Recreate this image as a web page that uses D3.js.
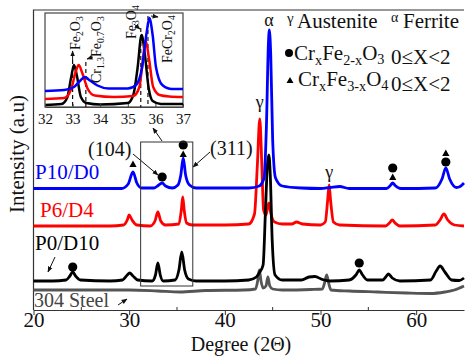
<!DOCTYPE html>
<html><head><meta charset="utf-8">
<script src="https://cdn.jsdelivr.net/npm/d3@7"></script>
<style>
body{margin:0;background:#fff}
svg{display:block}
svg text{font-family:'Liberation Serif','Tinos','Times New Roman','DejaVu Serif',serif !important}
</style>
</head><body>
<svg id="chart" width="465" height="356" font-family="Liberation Serif, Tinos, Times New Roman, DejaVu Serif, serif"></svg>
<script>
// ---------- DATA (degree 2θ, intensity a.u.) ----------
const xTicks = [20, 30, 40, 50, 60];
const xMinorTicks = [25, 35, 45, 55];
const insetTicks = [32, 33, 34, 35, 36, 37];

const seriesNames = ["304 Steel", "P6/D4", "P0/D10", "P10/D0"];

const steel304 = [[20,20],[25,20],[30,20],[33,19],[35.3,18],[38,19.5],[42,20],[43.2,21],[43.45,30],[43.6,40],[43.8,28],[44.0,22],[44.3,24],[44.5,33],[44.7,24],[45.0,21],[46,20],[49,20.5],[50.2,21],[50.45,28],[50.65,35],[50.85,27],[51.1,20],[53,19],[56,18],[59,17],[61.5,16.5],[63,18],[64,20],[65,24]];

const p6d4 = [[20,84],[28,84],[29.4,85],[29.8,90],[30.0,95],[30.3,90],[30.8,85],[32.2,84],[32.7,89],[33.0,98],[33.3,89],[33.8,85],[35.2,86],[35.45,100],[35.6,113],[35.75,100],[36.0,87],[36.6,85],[40,85],[42.5,86],[43.1,96],[43.4,145],[43.65,191],[43.85,150],[44.05,100],[44.3,95],[44.5,104],[44.62,107],[44.8,97],[45.2,88],[46,86],[47,86],[47.5,88],[48.1,86],[50,85],[50.5,88],[50.75,110],[50.9,125],[51.05,110],[51.35,88],[52,85],[56.8,84],[57.2,87],[57.5,90],[57.8,87],[58.3,84],[62,85],[62.5,90],[62.9,96],[63.3,90],[64.0,85],[65,84]];

const p0d10 = [[20,29],[22,29],[23.4,30],[23.8,34],[24.1,38],[24.4,34],[24.9,30],[28,29],[29.3,30],[29.8,35],[30.05,37],[30.4,34],[30.9,30],[32.4,29],[32.75,35],[33.0,47],[33.25,35],[33.55,29],[34.8,30],[35.2,40],[35.5,58],[35.8,40],[36.2,31],[37,29],[40,29],[42.5,30],[43.3,33],[43.65,38],[44.0,45],[44.25,100],[44.45,145],[44.6,155],[44.75,135],[44.95,70],[45.25,35],[46,30],[48,30],[48.8,33],[49.4,33.5],[50.2,30.5],[51,29],[53,30],[53.7,35],[54.05,40],[54.4,35],[54.9,30],[56.5,30],[56.9,34],[57.1,36],[57.5,32],[58.3,29],[61.5,30],[62.1,39],[62.5,44],[63.0,38],[63.7,30],[64.5,29.5],[65,32]];

const p10d0 = [[20,121.5],[25,121.5],[29.2,121.5],[29.9,126],[30.4,138],[30.8,127],[31.3,122],[32.6,122],[33.1,125],[33.45,127],[33.8,124],[34.5,122],[35.1,125],[35.4,135],[35.65,152],[35.9,135],[36.3,125],[37,122],[40,122],[42.5,122],[43.6,124],[44.1,132],[44.35,185],[44.55,265],[44.65,280],[44.8,255],[45.0,170],[45.3,132],[46,124],[48,122],[50,121.5],[51,122.5],[52,123.5],[53,121.5],[56.9,121.5],[57.3,124.5],[57.55,127],[57.8,124.5],[58.4,121.5],[62,122],[62.7,131],[63.1,142],[63.5,131],[64.2,122.5],[64.6,123.5],[65,127]];

// inset (32–37°)
const insetBlack = [[32,2],[32.6,3],[32.8,9],[32.95,30],[33.05,42],[33.15,32],[33.3,10],[33.5,4],[34,2.5],[35,4],[35.2,12],[35.35,38],[35.5,72],[35.62,52],[35.75,20],[35.9,6],[36.2,3],[37,3]];
const insetRed = [[32,8],[32.7,9],[32.95,18],[33.12,36],[33.22,42],[33.35,34],[33.55,18],[33.8,11.5],[34.5,10],[35.2,11],[35.42,20],[35.53,43],[35.65,66],[35.77,48],[35.92,20],[36.15,12],[36.5,10.5],[37,10]];
const insetBlue = [[32,16],[32.7,17],[33.05,20],[33.3,27],[33.45,30],[33.6,27],[33.9,21.5],[34.3,18.5],[35,18.5],[35.3,22],[35.52,40],[35.68,74],[35.78,89],[35.9,72],[36.02,40],[36.25,22],[36.6,18],[37,18]];

// phase markers: [deg, intensity, type]
const markersBlue = [[30.4,146,"tri"],[33.45,133,"dot"],[35.65,165,"dot"],[35.65,156,"tri"],[57.55,142,"dot"],[57.55,133,"tri"],[63.1,157,"tri"],[63.1,148,"dot"]];
const markersBlack = [[24.1,43,"dot"],[54.05,47,"dot"]];

// inset reference lines (deg)
const refLines = [33.0, 33.48, 35.47, 35.73];

// ---------- CHART ----------
const FONT = "'Liberation Serif','Tinos','Times New Roman','DejaVu Serif',serif";
const svg = d3.select("#chart");
const defs = svg.append("defs");
defs.append("marker").attr("id","ah").attr("viewBox","0 0 10 10").attr("refX",9).attr("refY",5)
  .attr("markerWidth",6).attr("markerHeight",6).attr("orient","auto-start-reverse")
  .append("path").attr("d","M0,1 L10,5 L0,9 Z").attr("fill","#111");

const x = d3.scaleLinear().domain([20,65]).range([33.5,464]);
const y = d3.scaleLinear().domain([0,300]).range([310,10]);

// frame
svg.append("path").attr("d",`M${x(20)},310 V10 H464`).attr("fill","none").attr("stroke","#333").attr("stroke-width",1.2);

const colors = {"304 Steel":"#555","P6/D4":"#ff0000","P0/D10":"#000","P10/D0":"#0000ff"};
const dataMap = {"304 Steel":steel304,"P6/D4":p6d4,"P0/D10":p0d10,"P10/D0":p10d0};
const line = d3.line().x(d=>x(d[0])).y(d=>y(d[1])).curve(d3.curveMonotoneX);
seriesNames.forEach(n=>{
  svg.append("path").datum(dataMap[n]).attr("d",line).attr("fill","none")
    .attr("stroke",colors[n]).attr("stroke-width",2.8).attr("stroke-linejoin","round");
});

// x axis
const ax = svg.append("g").attr("transform","translate(0,310)")
  .call(d3.axisBottom(x).tickValues(xTicks).tickSize(5).tickSizeOuter(0).tickFormat(d3.format("d")));
ax.attr("font-family",FONT);
ax.select(".domain").attr("stroke","#333").attr("stroke-width",1.2);
ax.selectAll(".tick line").attr("stroke","#333");
ax.selectAll(".tick text").attr("font-size",21).attr("fill","#111").attr("dy","0.85em").attr("y",-1);
ax.selectAll(".minor").data(xMinorTicks).enter().append("line")
  .attr("x1",d=>x(d)).attr("x2",d=>x(d)).attr("y1",-3).attr("y2",0).attr("stroke","#333");

svg.append("text").attr("x",241).attr("y",351).attr("text-anchor","middle").attr("font-size",20).attr("fill","#111").text("Degree (2Θ)");
svg.append("text").attr("transform","translate(24,154) rotate(-90)").attr("text-anchor","middle").attr("font-size",21).attr("fill","#111").text("Intensity (a.u)");

// markers
function drawMarkers(arr){
  arr.forEach(m=>{
    const cx=x(m[0]), cy=y(m[1]);
    if(m[2]==="dot") svg.append("circle").attr("cx",cx).attr("cy",cy).attr("r",4.6).attr("fill","#000");
    else svg.append("path").attr("d",`M${cx},${cy-3.5} L${cx+3.6},${cy+3} L${cx-3.6},${cy+3} Z`).attr("fill","#000");
  });
}
drawMarkers(markersBlue); drawMarkers(markersBlack);

// series labels
svg.append("text").attr("x",35).attr("y",179).attr("font-size",21).attr("fill","#0000ff").text("P10/D0");
svg.append("text").attr("x",40).attr("y",217).attr("font-size",21).attr("fill","#ff0000").text("P6/D4");
svg.append("text").attr("x",35).attr("y",250).attr("font-size",21).attr("fill","#000").text("P0/D10");
svg.append("text").attr("x",34).attr("y",307).attr("font-size",20).attr("fill","#444").text("304 Steel");

function arrow(x1,y1,x2,y2,w){
  svg.append("line").attr("x1",x1).attr("y1",y1).attr("x2",x2).attr("y2",y2)
    .attr("stroke","#111").attr("stroke-width",w||1).attr("marker-end","url(#ah)");
}
arrow(55,257,48,272);
arrow(118,305,127,299);

// hkl labels
svg.append("text").attr("x",88).attr("y",156).attr("font-size",20).attr("fill","#111").text("(104)");
svg.append("text").attr("x",210).attr("y",155).attr("font-size",20).attr("fill","#111").text("(311)");
arrow(133,154,158,175);
arrow(210,152,193,167);

// peak letters
svg.append("text").attr("x",x(44.62)).attr("y",26).attr("text-anchor","middle").attr("font-size",18).attr("fill","#111").text("α");
svg.append("text").attr("x",x(43.65)).attr("y",108).attr("text-anchor","middle").attr("font-size",18).attr("fill","#111").text("γ");
svg.append("text").attr("x",x(50.9)).attr("y",178).attr("text-anchor","middle").attr("font-size",18).attr("fill","#111").text("γ");

// zoom box
svg.append("rect").attr("x",x(31.2)).attr("y",142).attr("width",x(36.65)-x(31.2)).attr("height",144)
  .attr("fill","none").attr("stroke","#333").attr("stroke-width",1);
arrow(162,141,153,128);

// legend
function rich(t, parts){
  parts.forEach(p=>{
    const ts=t.append("tspan").text(p[0]);
    if(p[1]==="sub"){ts.attr("font-size","0.68em").attr("dy","0.32em");}
    else if(p[1]==="back"){ts.attr("dy","-0.22em");}
  });
  return t;
}
svg.append("text").attr("x",287).attr("y",23).attr("font-size",15).attr("fill","#111").text("γ");
svg.append("text").attr("x",297).attr("y",28).attr("font-size",21).attr("fill","#111").text("Austenite");
svg.append("text").attr("x",391).attr("y",22).attr("font-size",14).attr("fill","#111").text("α");
svg.append("text").attr("x",403).attr("y",28).attr("font-size",21).attr("fill","#111").text("Ferrite");

svg.append("circle").attr("cx",289).attr("cy",53).attr("r",4).attr("fill","#000");
rich(svg.append("text").attr("x",294).attr("y",60).attr("font-size",21).attr("fill","#111"),
  [["Cr"],["x","sub"],["Fe","back"],["2-x","sub"],["O","back"],["3","sub"]]);
svg.append("text").attr("x",391).attr("y",64).attr("font-size",21).attr("fill","#111").text("0≤X<2");

svg.append("path").attr("d","M290,77 L293.5,83 L286.5,83 Z").attr("fill","#000");
rich(svg.append("text").attr("x",298).attr("y",86).attr("font-size",21).attr("fill","#111"),
  [["Cr"],["x","sub"],["Fe","back"],["3-x","sub"],["O","back"],["4","sub"]]);
svg.append("text").attr("x",391).attr("y",91).attr("font-size",21).attr("fill","#111").text("0≤X<2");

// ---------- INSET ----------
const xi = d3.scaleLinear().domain([32,37]).range([45,183]);
const yi = d3.scaleLinear().domain([0,94]).range([107,13]);
const gi = svg.append("g");
gi.append("rect").attr("x",45).attr("y",13).attr("width",138).attr("height",94).attr("fill","#fff").attr("stroke","#444").attr("stroke-width",1.2);
const li = d3.line().x(d=>xi(d[0])).y(d=>yi(d[1])).curve(d3.curveMonotoneX);
const dashTops = [60, 62, 28, 16];
refLines.forEach((d,i)=>{
  gi.append("line").attr("x1",xi(d)).attr("x2",xi(d)).attr("y1",dashTops[i]).attr("y2",107)
    .attr("stroke","#111").attr("stroke-width",1.2).attr("stroke-dasharray","4,3");
});
[[insetBlack,"#000"],[insetRed,"#ff0000"],[insetBlue,"#0000ff"]].forEach(s=>{
  gi.append("path").datum(s[0]).attr("d",li).attr("fill","none").attr("stroke",s[1]).attr("stroke-width",2.5);
});
const axi = gi.append("g").attr("transform","translate(0,107)")
  .call(d3.axisBottom(xi).tickValues(insetTicks).tickSize(-3).tickSizeOuter(0).tickFormat(d3.format("d")));
axi.attr("font-family",FONT);
axi.select(".domain").attr("stroke","#444");
axi.selectAll(".tick line").attr("stroke","#444");
axi.selectAll(".tick text").attr("font-size",15).attr("fill","#111").attr("y",4).attr("dy","0.85em");

function rot(xp, yp, parts){
  const t = gi.append("text").attr("transform",`translate(${xp},${yp}) rotate(-90)`).attr("font-size",14).attr("fill","#111");
  rich(t, parts);
}
rot(80,50,[["Fe"],["2","sub"],["O","back"],["3","sub"]]);
rot(101,83,[["Cr"],["1.3","sub"],["Fe","back"],["0.7","sub"],["O","back"],["3","sub"]]);
rot(136,39,[["Fe"],["3","sub"],["O","back"],["4","sub"]]);
rot(172,63,[["FeCr"],["2","sub"],["O","back"],["4","sub"]]);

function arrowI(x1,y1,x2,y2){
  gi.append("line").attr("x1",x1).attr("y1",y1).attr("x2",x2).attr("y2",y2)
    .attr("stroke","#111").attr("stroke-width",1).attr("marker-end","url(#ah)");
}
arrowI(xi(33.0),60,xi(33.0),51);
arrowI(93,57,87,59);
arrowI(134,24,140,29);
arrowI(151,16,158,17);
</script>
</body></html>
